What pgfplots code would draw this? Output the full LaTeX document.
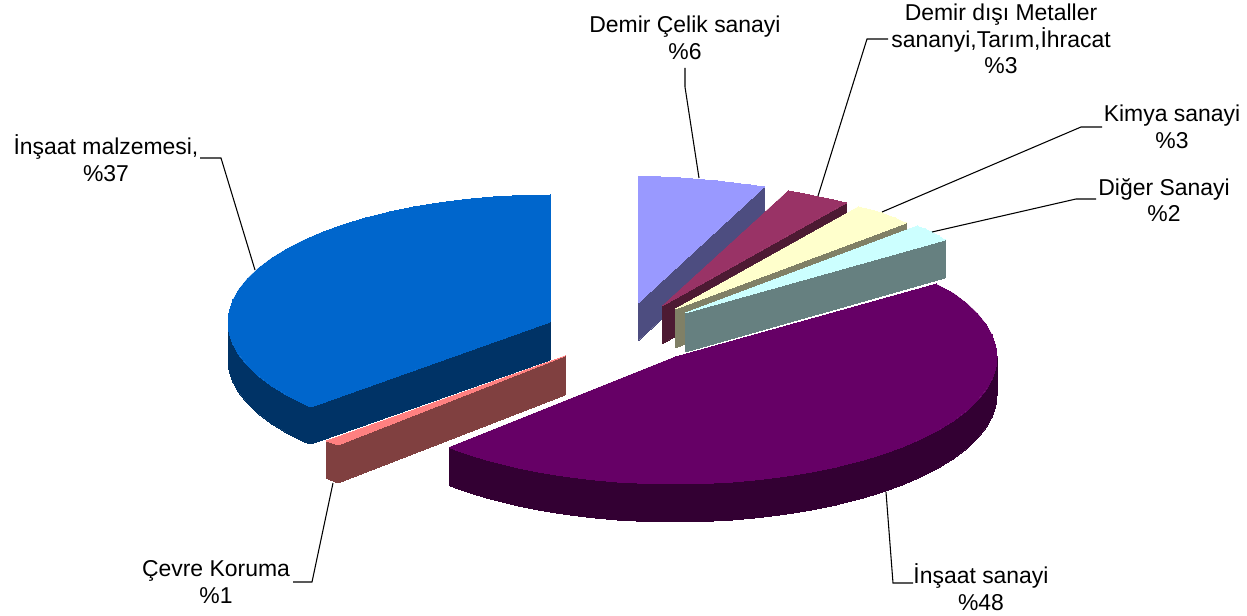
\documentclass[border=0pt]{standalone}
\usepackage{fontspec}
\setmainfont{Liberation Sans}
\usepackage{pgfplots}
\pgfplotsset{compat=1.18}
\tikzset{lbl/.style={align=center, font=\fontsize{17.2}{20}\selectfont, text=black, inner sep=0pt}}

\definecolor{blueT}{HTML}{0066CC}
\definecolor{blueS}{HTML}{003366}
\definecolor{coralT}{HTML}{FF8080}
\definecolor{coralS}{HTML}{804040}
\definecolor{lavT}{HTML}{9999FF}
\definecolor{lavS}{HTML}{4D4D80}
\definecolor{redT}{HTML}{993366}
\definecolor{redS}{HTML}{4D1A33}
\definecolor{yelT}{HTML}{FFFFCC}
\definecolor{yelS}{HTML}{808066}
\definecolor{cyaT}{HTML}{CCFFFF}
\definecolor{cyaS}{HTML}{668080}
\definecolor{purT}{HTML}{660066}
\definecolor{purS}{HTML}{330033}

\begin{document}
\begin{tikzpicture}
\begin{axis}[
  scale only axis,
  width=935.25pt, height=462pt,
  xmin=0, xmax=1247, ymin=0, ymax=616,
  y dir=reverse,
  hide axis,
  clip=false,
  every axis plot/.append style={line width=0pt},
]
% invisible corners, keeps the page size
\addplot[draw=none] coordinates {(0,0) (1247,616)};

% Insaat malzemesi
\addplot[fill=blueS, draw=blueS] coordinates {
  (228,322) (229.2,333.1) (232.9,344) (239,354.9) (247.4,365.4) (258.2,375.7) (271.1,385.5)
  (286.2,394.8) (303.3,403.6) (311,407) (311,444) (303.3,441.6) (286.2,432.8) (271.1,423.5)
  (258.2,413.7) (247.4,403.4) (239,392.9) (232.9,382) (229.2,371.1) (228,360)} -- cycle;
\addplot[fill=blueS, draw=blueS] coordinates {(311,407) (550,322) (550,360) (311,444)} -- cycle;
\addplot[fill=blueT, draw=blueT] coordinates {
  (550,322) (311,407) (303.3,403.6) (286.2,394.8) (271.1,385.5) (258.2,375.7) (247.4,365.4)
  (239,354.9) (232.9,344) (229.2,333.1) (228,322) (229.2,310.9) (232.9,300) (239,289.1)
  (247.4,278.6) (258.2,268.3) (271.1,258.5) (286.2,249.2) (303.3,240.4) (322.3,232.2)
  (343,224.7) (365.3,218) (389,212) (413.9,206.9) (439.9,202.7) (466.7,199.3) (494.1,196.9)
  (521.9,195.5) (550,195)} -- cycle;

% Cevre Koruma
\addplot[fill=coralS, draw=coralS] coordinates {(326,441) (338,445) (338,483) (326,478)} -- cycle;
\addplot[fill=coralS, draw=coralS] coordinates {(338,445) (565,356) (565,395) (338,483)} -- cycle;
\addplot[fill=coralT, draw=coralT] coordinates {(326,441) (338,445) (565,356)} -- cycle;

% Demir Celik sanayi
\addplot[fill=lavS, draw=lavS] coordinates {(638,303) (764,187) (764,225) (638,341)} -- cycle;
\addplot[fill=lavT, draw=lavT] coordinates {(638,303) (638,177) (660,177) (680,178) (700,179.5) (717,181) (733,183) (750,185) (764,187)} -- cycle;

% Demir disi Metaller
\addplot[fill=redS, draw=redS] coordinates {(662,306) (846,203) (846,241) (662,344)} -- cycle;
\addplot[fill=redT, draw=redT] coordinates {(662,306) (788,191) (803,193.5) (817,196.5) (832,199.5) (846,203)} -- cycle;

% Kimya sanayi
\addplot[fill=yelS, draw=yelS] coordinates {(675,309) (906,223) (906,261) (675,348)} -- cycle;
\addplot[fill=yelT, draw=yelT] coordinates {(675,309) (858,207) (870,209.5) (882,213) (895,218) (906,223)} -- cycle;

% Diger Sanayi
\addplot[fill=cyaS, draw=cyaS] coordinates {(685,313) (945,240) (945,278) (685,352)} -- cycle;
\addplot[fill=cyaT, draw=cyaT] coordinates {(685,313) (917,226) (925,229) (932,232) (939,236) (945,240)} -- cycle;

% Insaat sanayi
\addplot[fill=purS, draw=purS] coordinates {
  (997,357) (995.8,368.1) (992.1,379) (986,389.9) (977.6,400.4) (966.8,410.7) (953.9,420.5)
  (938.8,429.8) (921.7,438.6) (902.7,446.8) (882,454.3) (859.7,461) (836,467) (811.1,472.1)
  (785.1,476.3) (758.3,479.7) (730.9,482.1) (703.1,483.5) (675,484) (646.9,483.5) (619.1,482.1)
  (591.7,479.7) (564.9,476.3) (538.9,472.1) (514,467) (490.3,461) (468,454.3) (449,447.5)
  (449,485.5) (468,492.3) (490.3,499) (514,505) (538.9,510.1) (564.9,514.3) (591.7,517.7)
  (619.1,520.1) (646.9,521.5) (675,522) (703.1,521.5) (730.9,520.1) (758.3,517.7) (785.1,514.3)
  (811.1,510.1) (836,505) (859.7,499) (882,492.3) (902.7,484.8) (921.7,476.6) (938.8,467.8)
  (953.9,458.5) (966.8,448.7) (977.6,438.4) (986,427.9) (992.1,417) (995.8,406.1) (997,395)} -- cycle;
\addplot[fill=purT, draw=purT] coordinates {
  (675,357) (936,284) (953.9,293.5) (966.8,303.3) (977.6,313.6) (986,324.1) (992.1,335)
  (995.8,345.9) (997,357) (995.8,368.1) (992.1,379) (986,389.9) (977.6,400.4) (966.8,410.7)
  (953.9,420.5) (938.8,429.8) (921.7,438.6) (902.7,446.8) (882,454.3) (859.7,461) (836,467)
  (811.1,472.1) (785.1,476.3) (758.3,479.7) (730.9,482.1) (703.1,483.5) (675,484) (646.9,483.5)
  (619.1,482.1) (591.7,479.7) (564.9,476.3) (538.9,472.1) (514,467) (490.3,461) (468,454.3)
  (449,447.5)} -- cycle;

% leader lines
\addplot[black, line width=0.8pt] coordinates {(200,158) (221,158) (255,270)};
\addplot[black, line width=0.8pt] coordinates {(685,68) (685,87) (699,178)};
\addplot[black, line width=0.8pt] coordinates {(888,39) (867,39) (818,196)};
\addplot[black, line width=0.8pt] coordinates {(1102,127) (1081,127) (882,212)};
\addplot[black, line width=0.8pt] coordinates {(1096,199) (1076,199) (932,232)};
\addplot[black, line width=0.8pt] coordinates {(293,582) (312,582) (333,483)};
\addplot[black, line width=0.8pt] coordinates {(886,492) (893,583) (913,583)};

% labels
\node[lbl] at (axis cs:106,158) {İnşaat malzemesi,\\\%37};
\node[lbl] at (axis cs:685,38) {Demir Çelik sanayi\\\%6};
\node[lbl] at (axis cs:1001,39) {Demir dışı Metaller\\sananyi,Tarım,İhracat\\\%3};
\node[lbl] at (axis cs:1172,127) {Kimya sanayi\\\%3};
\node[lbl] at (axis cs:1164,200) {Diğer Sanayi\\\%2};
\node[lbl] at (axis cs:216,582) {Çevre Koruma\\\%1};
\node[lbl] at (axis cs:981,587) {İnşaat sanayi\\\%48};
\end{axis}
\end{tikzpicture}
\end{document}
